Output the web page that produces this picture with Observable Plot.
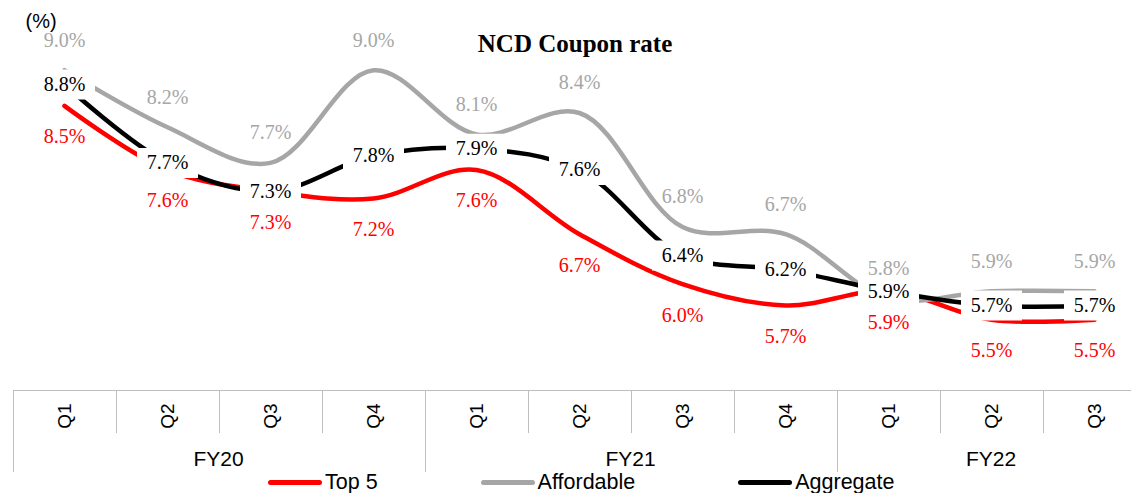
<!DOCTYPE html>
<html><head><meta charset="utf-8">
<script src="https://cdn.jsdelivr.net/npm/d3@7"></script>
<script src="https://cdn.jsdelivr.net/npm/@observablehq/plot@0.6"></script>
<style>
body{margin:0;background:#fff;}
#wrap{position:relative;width:1131px;height:493px;overflow:hidden;background:#fff;}
#wrap svg{position:absolute;left:0;top:0;}
.cell{position:absolute;box-sizing:border-box;border-left:1px solid #bfbfbf;border-top:1px solid #bfbfbf;}
.grp{position:absolute;box-sizing:border-box;border-left:1px solid #bfbfbf;}
.q{position:absolute;font-family:"Liberation Sans",Arial,sans-serif;font-size:19px;color:#000;transform:translate(-50%,-50%) rotate(-90deg);white-space:nowrap;line-height:1;}
.fy{position:absolute;font-family:"Liberation Sans",Arial,sans-serif;font-size:21px;color:#000;text-align:center;line-height:26px;height:26px;}
#legend{position:absolute;left:268px;top:470px;height:24px;display:flex;align-items:center;font-family:"Liberation Sans",Arial,sans-serif;font-size:21.5px;line-height:24px;color:#000;}
#legend .item{display:flex;align-items:center;margin-right:103px;}
#legend .sw{width:54px;height:5px;border-radius:3px;margin-right:3px;}
</style></head><body><div id="wrap"></div>
<script>
const fiscalYears = ["FY20","FY20","FY20","FY20","FY21","FY21","FY21","FY21","FY22","FY22","FY22"];
const quarters = ["Q1","Q2","Q3","Q4","Q1","Q2","Q3","Q4","Q1","Q2","Q3"];
const top5 = [8.5,7.6,7.3,7.2,7.6,6.7,6.0,5.7,5.9,5.5,5.5];
const affordable = [9.0,8.2,7.7,9.0,8.1,8.4,6.8,6.7,5.8,5.9,5.9];
const aggregate = [8.8,7.7,7.3,7.8,7.9,7.6,6.4,6.2,5.9,5.7,5.7];
const seriesNames = ["Top 5","Affordable","Aggregate"];
const seriesColors = ["#ff0000","#a6a6a6","#000000"];
const chartTitle = "NCD Coupon rate";
const unitLabel = "(%)";

const keys = quarters.map((q,i)=>fiscalYears[i]+" "+q);
const rows = vals => vals.map((v,i)=>({key:keys[i], value:v}));
const rTop5 = rows(top5), rAff = rows(affordable), rAgg = rows(aggregate);
const fmt = d => d.value.toFixed(1)+"%";
const serif = "'Liberation Serif','Times New Roman',serif";
// white label-background box used behind the Aggregate labels
const labelBox = {draw(ctx){ ctx.rect(-30.5,-15,61,30); ctx.closePath(); }};

const plot = Plot.plot({
  width:1131, height:390, marginTop:0, marginBottom:0, marginLeft:12, marginRight:0,
  x:{type:"point", domain:keys, range:[12,1145], padding:0.5, axis:null},
  y:{domain:[4.508,9.978], range:[390,0], axis:null},
  style:{background:"transparent", overflow:"visible"},
  marks:[
    Plot.line(rTop5,{x:"key",y:"value",stroke:seriesColors[0],strokeWidth:4.5,curve:"catmull-rom"}),
    Plot.line(rAff,{x:"key",y:"value",stroke:seriesColors[1],strokeWidth:4.5,curve:"catmull-rom"}),
    Plot.line(rAgg,{x:"key",y:"value",stroke:seriesColors[2],strokeWidth:4.5,curve:"catmull-rom"}),
    Plot.dot(rAgg,{x:"key",y:"value",symbol:labelBox,r:5,fill:"white",stroke:"none"}),
    Plot.text(rAgg,{x:"key",y:"value",text:fmt,fill:"#000",fontFamily:serif,fontSize:20}),
    Plot.text(rAff,{x:"key",y:"value",text:fmt,fill:seriesColors[1],dy:-30,fontFamily:serif,fontSize:20}),
    Plot.text(rTop5,{x:"key",y:"value",text:fmt,fill:seriesColors[0],dy:31,fontFamily:serif,fontSize:20}),
    Plot.text([chartTitle],{frameAnchor:"top",lineAnchor:"middle",dx:3,dy:43,text:d=>d,fontFamily:serif,fontSize:25,fontWeight:"bold",fill:"#000"}),
    Plot.text([unitLabel],{frameAnchor:"top-left",lineAnchor:"middle",textAnchor:"start",dx:13,dy:21,text:d=>d,fontFamily:"'Liberation Sans',Arial,sans-serif",fontSize:20,fill:"#000"})
  ]
});
const wrap = document.getElementById("wrap");
wrap.appendChild(plot);

// category table drawn from the plot's x scale
const xs = plot.scale("x");
const cx = keys.map(k=>xs.apply(k));
const step = cx[1]-cx[0];
const add = (cls, css, txt) => { const d=document.createElement("div"); d.className=cls; Object.assign(d.style,css); if(txt!=null) d.textContent=txt; wrap.appendChild(d); return d; };
keys.forEach((k,i)=>{
  add("cell",{left:(cx[i]-step/2)+"px",top:"390px",width:step+"px",height:"43px"});
  add("q",{left:cx[i]+"px",top:"416px"},quarters[i]);
});
const groups = [...new Set(fiscalYears)];
groups.forEach(g=>{
  const idx = fiscalYears.map((f,i)=>f===g?i:-1).filter(i=>i>=0);
  const left = cx[idx[0]]-step/2, right = cx[idx[idx.length-1]]+step/2;
  add("grp",{left:left+"px",top:"390px",width:(right-left)+"px",height:"82px"});
  add("fy",{left:left+"px",top:"446px",width:(right-left)+"px"},g);
});

// legend
const leg = document.createElement("div"); leg.id="legend";
seriesNames.forEach((n,i)=>{
  const it=document.createElement("div"); it.className="item";
  const sw=document.createElement("div"); sw.className="sw"; sw.style.background=seriesColors[i];
  const t=document.createElement("span"); t.textContent=n;
  it.appendChild(sw); it.appendChild(t); leg.appendChild(it);
});
wrap.appendChild(leg);
</script></body></html>
